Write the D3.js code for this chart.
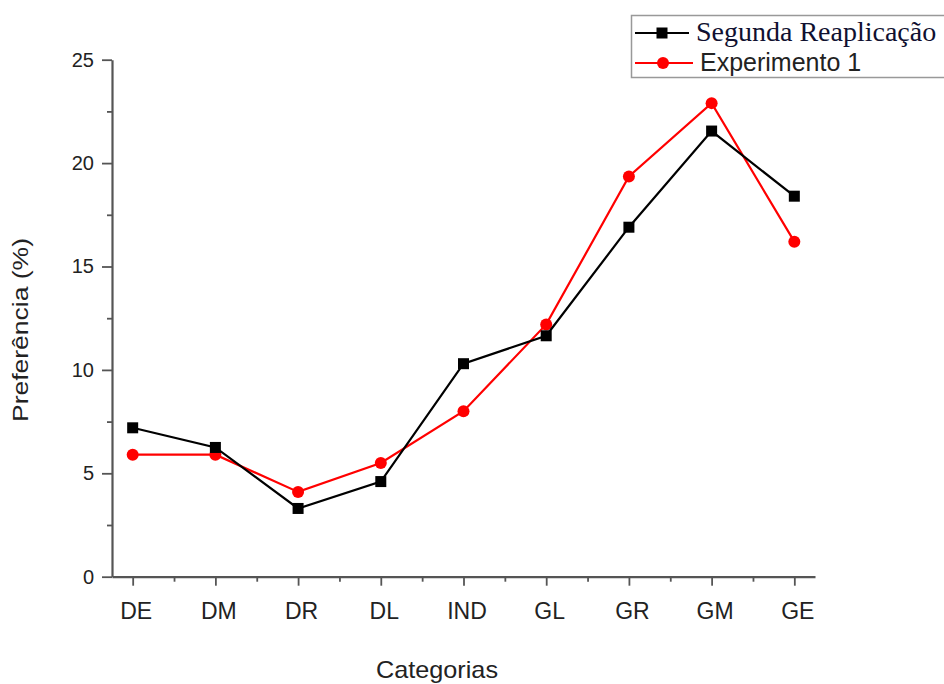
<!DOCTYPE html>
<html>
<head>
<meta charset="utf-8">
<script src="https://cdn.jsdelivr.net/npm/d3@7"></script>
<style>
  html, body { margin: 0; padding: 0; background: #fff; }
  svg { display: block; }
</style>
</head>
<body>
<svg id="chart" width="944" height="684"></svg>
<script>
// Categories along the x axis
const categories = ["DE", "DM", "DR", "DL", "IND", "GL", "GR", "GM", "GE"];
// Preference (%) per category
const segundaReaplicacao = [7.2, 6.25, 3.3, 4.6, 10.3, 11.65, 16.9, 21.55, 18.4];
const experimento1 = [5.9, 5.9, 4.1, 5.5, 8.0, 12.2, 19.35, 22.9, 16.2];
const yTicks = [0, 5, 10, 15, 20, 25];
const seriesNames = ["Segunda Reaplicação", "Experimento 1"];

const svg = d3.select("#chart");
const axisColor = "#555";
const labelColor = "#222";
const sans = "Liberation Sans, Arial, sans-serif";

const x = d3.scaleLinear().domain([-0.25, 8.25]).range([112, 815]);
const y = d3.scaleLinear().domain([0, 25]).range([576.7, 59.7]);

// Y axis: major ticks every 5, minor ticks in between
const yAxis = d3.axisLeft(y).tickValues(yTicks).tickSize(10).tickPadding(8).tickSizeOuter(0);
const yAxisG = svg.append("g").attr("transform", "translate(112,0)").call(yAxis);
yAxisG.selectAll(".tick text").attr("font-size", 20);
const yMinor = d3.axisLeft(y).tickValues(d3.range(2.5, 25, 5)).tickSize(5).tickFormat("").tickSizeOuter(0);
svg.append("g").attr("transform", "translate(112,0)").call(yMinor).select(".domain").remove();

// X axis: one major tick per category, minor ticks halfway
const xAxis = d3.axisBottom(x).tickValues(d3.range(categories.length))
  .tickFormat(i => categories[i]).tickSize(9).tickPadding(17).tickSizeOuter(0);
const xAxisG = svg.append("g").attr("transform", "translate(0,576.7)").call(xAxis);
xAxisG.selectAll(".tick text").attr("font-size", 23).attr("dx", 3);
const xMinor = d3.axisBottom(x).tickValues(d3.range(0.5, categories.length - 1, 1)).tickSize(5).tickFormat("").tickSizeOuter(0);
svg.append("g").attr("transform", "translate(0,576.7)").call(xMinor).select(".domain").remove();

svg.selectAll(".domain").attr("stroke", axisColor).attr("stroke-width", 2.2);
svg.selectAll(".tick line").attr("stroke", axisColor).attr("stroke-width", 1.8);
svg.selectAll(".tick text")
  .attr("font-family", sans)
  .attr("fill", labelColor);

// Axis titles
svg.append("text")
  .attr("x", 437).attr("y", 678)
  .attr("text-anchor", "middle")
  .attr("font-family", sans)
  .attr("font-size", 24).attr("fill", labelColor)
  .attr("textLength", 122).attr("lengthAdjust", "spacingAndGlyphs")
  .text("Categorias");
svg.append("text")
  .attr("transform", "translate(28,330) rotate(-90)")
  .attr("text-anchor", "middle")
  .attr("font-family", sans)
  .attr("font-size", 22).attr("fill", labelColor)
  .attr("textLength", 184).attr("lengthAdjust", "spacingAndGlyphs")
  .text("Preferência (%)");

const line = d3.line().x((d, i) => x(i)).y(d => y(d));

// Experimento 1 (red, circles)
svg.append("path").datum(experimento1)
  .attr("d", line).attr("fill", "none").attr("stroke", "#ff0000").attr("stroke-width", 2.2);
svg.selectAll(".red-pt").data(experimento1).enter().append("circle")
  .attr("class", "red-pt")
  .attr("cx", (d, i) => x(i)).attr("cy", d => y(d)).attr("r", 6).attr("fill", "#ff0000");

// Segunda Reaplicação (black, squares)
svg.append("path").datum(segundaReaplicacao)
  .attr("d", line).attr("fill", "none").attr("stroke", "#000").attr("stroke-width", 2.2);
const sq = 11;
svg.selectAll(".blk-pt").data(segundaReaplicacao).enter().append("rect")
  .attr("class", "blk-pt")
  .attr("x", (d, i) => x(i) - sq / 2).attr("y", d => y(d) - sq / 2)
  .attr("width", sq).attr("height", sq).attr("fill", "#000");

// Legend
const legend = svg.append("g");
legend.append("rect")
  .attr("x", 631.5).attr("y", 15.5).attr("width", 330).attr("height", 62)
  .attr("fill", "#fff").attr("stroke", "#999").attr("stroke-width", 1.5);
legend.append("line").attr("x1", 635).attr("x2", 689).attr("y1", 33).attr("y2", 33)
  .attr("stroke", "#000").attr("stroke-width", 2.2);
legend.append("rect").attr("x", 662 - sq / 2).attr("y", 33 - sq / 2)
  .attr("width", sq).attr("height", sq).attr("fill", "#000");
legend.append("text").attr("x", 696).attr("y", 41)
  .attr("font-family", "Liberation Serif, Times New Roman, serif")
  .attr("font-size", 28).attr("fill", "#101030")
  .text(seriesNames[0]);
legend.append("line").attr("x1", 635).attr("x2", 693).attr("y1", 63).attr("y2", 63)
  .attr("stroke", "#ff0000").attr("stroke-width", 2.2);
legend.append("circle").attr("cx", 663).attr("cy", 63).attr("r", 6).attr("fill", "#ff0000");
legend.append("text").attr("x", 700).attr("y", 71)
  .attr("font-family", sans)
  .attr("font-size", 25).attr("fill", labelColor)
  .text(seriesNames[1]);
</script>
</body>
</html>
